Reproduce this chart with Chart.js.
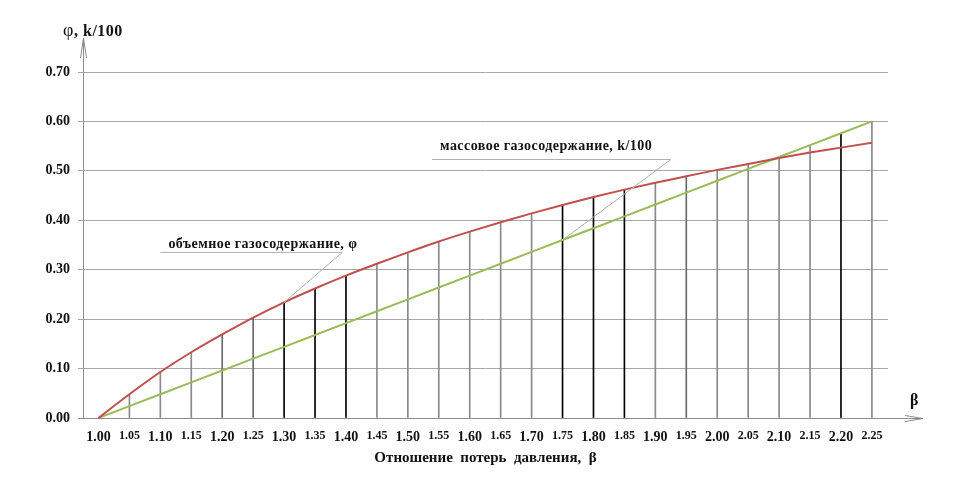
<!DOCTYPE html>
<html>
<head>
<meta charset="utf-8">
<script src="https://cdn.jsdelivr.net/npm/chart.js@4.4.0/dist/chart.umd.min.js"></script>
<style>
  html, body { margin: 0; padding: 0; background: #fff; }
  #wrap { width: 960px; height: 478px; position: relative; }
</style>
</head>
<body>
<div id="wrap"><canvas id="myChart"></canvas></div>
<script>
// данные графика
const beta = [1.00, 1.05, 1.10, 1.15, 1.20, 1.25, 1.30, 1.35, 1.40, 1.45, 1.50, 1.55, 1.60,
              1.65, 1.70, 1.75, 1.80, 1.85, 1.90, 1.95, 2.00, 2.05, 2.10, 2.15, 2.20, 2.25];
// объемное газосодержание, φ
const phi = [0.000, 0.048, 0.093, 0.133, 0.169, 0.203, 0.234, 0.262, 0.288, 0.312, 0.335, 0.357, 0.377,
             0.396, 0.414, 0.431, 0.447, 0.462, 0.476, 0.489, 0.502, 0.514, 0.526, 0.537, 0.547, 0.557];
// массовое газосодержание, k/100
const mass = [0.000, 0.024, 0.048, 0.072, 0.096, 0.120, 0.144, 0.168, 0.192, 0.216, 0.240, 0.264, 0.288,
              0.312, 0.336, 0.360, 0.384, 0.408, 0.432, 0.456, 0.480, 0.504, 0.528, 0.552, 0.576, 0.600];
const yTicks = [0.00, 0.10, 0.20, 0.30, 0.40, 0.50, 0.60, 0.70];

// какие вертикальные линии черные
const darkDrops = [1.30, 1.35, 1.40, 1.75, 1.80, 1.85, 2.20];
const midDrops = [1.20, 1.25, 1.95];

const RED = '#c0504d';
const GREEN = '#9bbb59';
const AXIS = '#8c8c8c';
const SERIF = '"Liberation Serif", "DejaVu Serif", serif';

// вертикальные линии до кривой
const drops = beta.map((b, i) => ({ x: b, y: i == 0 ? null : Math.max(phi[i], mass[i]) }));
const dropColors = beta.map((b) => {
    if (darkDrops.includes(b)) return '#000';
    if (midDrops.includes(b)) return '#6a6a6a';
    return '#8a8a8a';
});

// подписи кривых (в координатах данных)
const notes = [
    { text: 'объемное газосодержание, φ', tx: 1.113, ty: 0.344, x0: 1.100, x1: 1.394, y: 0.336, px: 1.30, py: phi[6] },
    { text: 'массовое газосодержание, k/100', tx: 1.552, ty: 0.543, x0: 1.539, x1: 1.925, y: 0.524, px: 1.75, py: mass[15] }
];

const extras = {
    id: 'extras',
    afterDatasetsDraw(chart) {
        const ctx = chart.ctx;
        const xs = chart.scales.x;
        const ys = chart.scales.y;
        const y0 = ys.getPixelForValue(0);
        const xl = chart.chartArea.left;

        ctx.save();
        // оси со стрелками
        ctx.strokeStyle = AXIS;
        ctx.lineWidth = 1;
        ctx.beginPath();
        ctx.moveTo(xl - 5, y0 + 0.5);
        ctx.lineTo(923, y0 + 0.5);
        ctx.moveTo(905, y0 - 2.5);
        ctx.lineTo(923, y0 + 0.5);
        ctx.lineTo(905, y0 + 3.5);
        ctx.moveTo(xl + 0.5, y0);
        ctx.lineTo(xl + 0.5, 38);
        ctx.moveTo(xl - 2.5, 58);
        ctx.lineTo(xl + 0.5, 38);
        ctx.lineTo(xl + 3.5, 58);
        ctx.stroke();

        // подписи осей
        ctx.fillStyle = '#111';
        ctx.textBaseline = 'alphabetic';
        ctx.font = '18px ' + SERIF;
        ctx.fillText('φ', 63, 36);
        ctx.font = 'bold 16px ' + SERIF;
        ctx.letterSpacing = '0.5px';
        ctx.fillText(', k/100', 74, 36);
        ctx.fillText('β', 910, 405);

        // выноски
        notes.forEach((n) => {
            const ux0 = xs.getPixelForValue(n.x0);
            const ux1 = xs.getPixelForValue(n.x1);
            const uy = ys.getPixelForValue(n.y);
            ctx.strokeStyle = '#b0b0b0';
            ctx.lineWidth = 1;
            ctx.beginPath();
            ctx.moveTo(ux0, uy + 0.5);
            ctx.lineTo(ux1, uy + 0.5);
            ctx.lineTo(xs.getPixelForValue(n.px), ys.getPixelForValue(n.py));
            ctx.stroke();
            ctx.fillStyle = '#111';
            ctx.font = 'bold 14px ' + SERIF;
            ctx.letterSpacing = '0.45px';
            ctx.fillText(n.text, xs.getPixelForValue(n.tx), ys.getPixelForValue(n.ty));
        });
        ctx.restore();
    }
};

const mct = document.getElementById('myChart');

const data = {
    datasets: [{
        type: 'line',
        label: 'объемное газосодержание, φ',
        data: beta.map((b, i) => ({ x: b, y: phi[i] })),
        borderColor: RED,
        borderWidth: 2,
        pointRadius: 0,
        cubicInterpolationMode: 'monotone',
        order: 1
    }, {
        type: 'line',
        label: 'массовое газосодержание, k/100',
        data: beta.map((b, i) => ({ x: b, y: mass[i] })),
        borderColor: GREEN,
        borderWidth: 2,
        pointRadius: 0,
        order: 2
    }, {
        type: 'bar',
        label: 'drops',
        data: drops,
        backgroundColor: dropColors,
        barThickness: 1,
        order: 3
    }]
};

const config = {
    type: 'line',
    data: data,
    plugins: [extras],
    options: {
        responsive: false,
        animation: false,
        layout: { padding: { top: 72, right: 72, left: 0, bottom: 0 } },
        plugins: {
            legend: { display: false },
            tooltip: { enabled: false }
        },
        scales: {
            x: {
                type: 'linear',
                offset: false,
                min: 0.975,
                max: 2.276,
                afterBuildTicks: (scale) => { scale.ticks = beta.map((v) => ({ value: v })); },
                afterFit: (scale) => { scale.height = 60; },
                grid: { display: false, drawTicks: false },
                border: { display: false },
                ticks: {
                    autoSkip: false,
                    maxRotation: 0,
                    padding: 11,
                    color: '#111',
                    callback: (v) => v.toFixed(2),
                    font: (c) => {
                        const i = c.index;
                        return { family: SERIF, weight: 'bold', size: i % 2 == 0 ? 14 : 12 };
                    }
                },
                title: {
                    display: true,
                    text: 'Отношение  потерь  давления,  β',
                    color: '#111',
                    font: { family: SERIF, weight: 'bold', size: 15 },
                    padding: { top: 0, bottom: 11 }
                }
            },
            y: {
                min: 0,
                max: 0.70,
                afterBuildTicks: (scale) => { scale.ticks = yTicks.map((v) => ({ value: v })); },
                afterFit: (scale) => { scale.width = 83; },
                grid: { color: '#a8a8a8', tickLength: 5, drawTicks: true, tickColor: '#a8a8a8' },
                border: { display: false },
                ticks: {
                    padding: 8,
                    color: '#111',
                    callback: (v) => v.toFixed(2),
                    font: { family: SERIF, weight: 'bold', size: 14 }
                }
            }
        }
    }
};

mct.width = 960;
mct.height = 478;
const myChart = new Chart(mct, config);
</script>
</body>
</html>
